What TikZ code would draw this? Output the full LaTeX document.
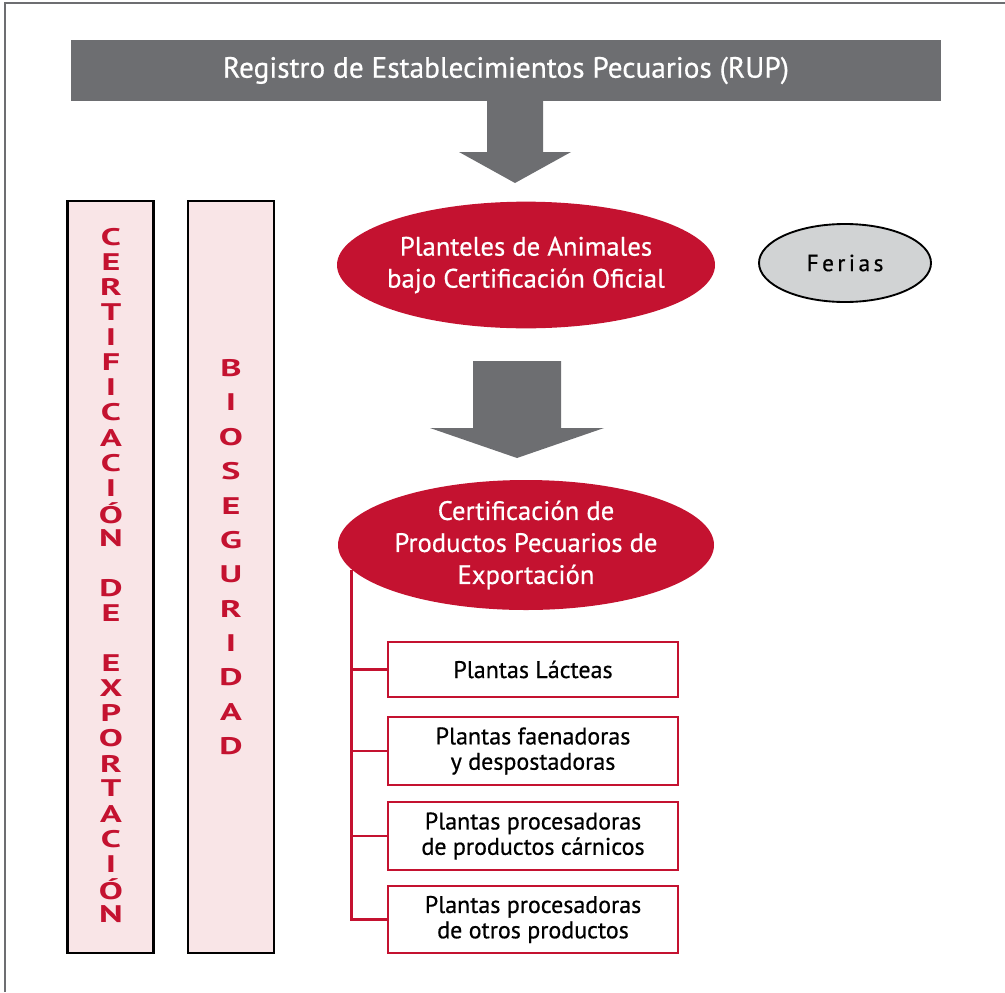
\documentclass[tikz,border=0pt]{standalone}
\usepackage{graphicx}
\usepackage{fontspec}
\setmainfont{PT Sans}[FakeBold=0.6]
\newfontfamily\medfont{PT Sans}[FakeBold=0.6]
\newfontfamily\colfont{PT Sans Bold}
\newcommand\wideletter[1]{\scalebox{1.5}[1]{#1}}
\usetikzlibrary{shapes.geometric}
\definecolor{rupred}{HTML}{C41230}
\definecolor{rupgray}{HTML}{6D6E71}
\definecolor{rupgrayl}{HTML}{D1D3D4}
\definecolor{ruppink}{HTML}{F9E5E7}
\begin{document}
\begin{tikzpicture}[x=0.75pt,y=-0.75pt,
  oval/.style={ellipse, fill=rupred, inner sep=0pt},
  ovaltext/.style={text=white, align=center, inner sep=0pt,
    font=\medfont\fontsize{20}{24}\selectfont},
  plantbox/.style={rectangle, draw=rupred, line width=1.9pt, fill=white,
    minimum width=217.5pt, align=center, inner sep=0pt,
    font=\medfont\fontsize{18}{19}\selectfont},
  column/.style={rectangle, draw=black, line width=2.2pt, fill=ruppink,
    minimum width=64.5pt, minimum height=564pt, inner sep=0pt},
  colletter/.style={text=rupred, font=\colfont\fontsize{18}{18}\selectfont, inner sep=0pt},
  branch/.style={draw=rupred, line width=2.2pt},
  blockarrow/.style={fill=rupgray}]
\useasboundingbox (0,0) rectangle (1005,992);

% outer frame (top and left edges)
\draw[rupgray, line width=1.6pt] (5,992) -- (5,3) -- (1005,3);

% title bar
\node[rectangle, fill=rupgray, minimum width=652.5pt, minimum height=45.75pt,
  inner sep=0pt, text=white, font=\medfont\fontsize{22}{24}\selectfont]
  (rup) at (506,70.5) {Registro de Establecimientos Pecuarios (RUP)};

% block arrows
\fill[blockarrow] (487,101) -- (543,101) -- (543,152) -- (571,152) -- (515,183)
  -- (459,152) -- (487,152) -- cycle;
\fill[blockarrow] (473,361) -- (561,361) -- (561,428) -- (604,428) -- (517,458)
  -- (430,428) -- (473,428) -- cycle;

% ovals (text set as centre labels so the shape keeps its size)
\node[oval, minimum width=283.5pt, minimum height=95pt,
  label={[ovaltext]center:{Planteles de Animales\\bajo Certificación Oficial}}]
  (e1) at (526,265) {};
\node[ellipse, draw=black, line width=1.4pt, fill=rupgrayl, minimum width=129pt,
  minimum height=58.5pt, inner sep=0pt, font=\medfont\fontsize{17.5}{18}\selectfont]
  (ferias) at (845,263) {F\kern2.6pt e\kern2.6pt r\kern2.6pt i\kern2.6pt a\kern2.6pt s};
\node[oval, minimum width=282pt, minimum height=97.5pt,
  label={[ovaltext]center:{Certificación de\\Productos Pecuarios de\\Exportación}}]
  (e2) at (526,545) {};

% plant boxes
\node[plantbox, minimum height=41.25pt] (b1) at (533,669.5) {Plantas Lácteas};
\node[plantbox, minimum height=51pt] (b2) at (533,751) {Plantas faenadoras\\y despostadoras};
\node[plantbox, minimum height=51pt] (b3) at (533,836) {Plantas procesadoras\\de productos cárnicos};
\node[plantbox, minimum height=50.25pt] (b4) at (533,919.5) {Plantas procesadoras\\de otros productos};

% tree connector
\draw[branch] (e2.188) |- (b4.west);
\foreach \b in {b1,b2,b3}
  \draw[branch] (\b.west) -- (\b.west -| e2.188);

% vertical columns
\node[column] (c1) at (110.5,577) {};
\node[column] (c2) at (231,577) {};
\foreach \ch [count=\i from 0] in {C,E,R,T,I,F,I,C,A,C,I,Ó,N,{},D,E,{},E,X,P,O,R,T,A,C,I,Ó,N}
  \node[colletter] (c1l\i) at (111,237+25.07*\i) {\wideletter{\ch}};
\foreach \ch [count=\i from 0] in {B,I,O,S,E,G,U,R,I,D,A,D}
  \node[colletter] (c2l\i) at (231,368+34.4*\i) {\wideletter{\ch}};
\end{tikzpicture}
\end{document}
